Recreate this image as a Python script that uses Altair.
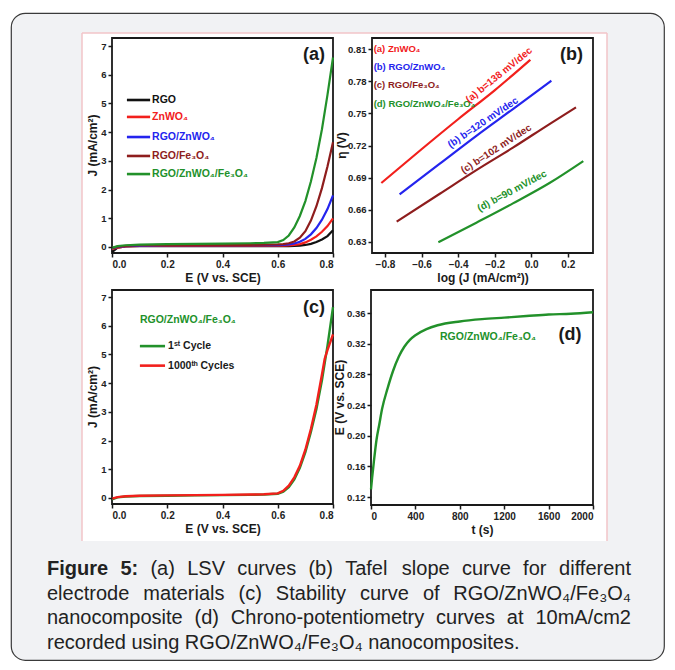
import altair as alt
import pandas as pd

# ---------------- data ----------------
# (a) LSV curves
E_lsv = [0.0, 0.02, 0.05, 0.1, 0.2, 0.3, 0.4, 0.5, 0.55, 0.6, 0.62, 0.64, 0.66, 0.68, 0.70, 0.72, 0.74, 0.76, 0.78, 0.80]
J_rgo = [-0.18, -0.02, 0.02, 0.03, 0.03, 0.03, 0.03, 0.03, 0.03, 0.03, 0.03, 0.03, 0.035, 0.045, 0.07, 0.11, 0.17, 0.26, 0.38, 0.58]
J_znwo4 = [-0.08, -0.02, 0.02, 0.04, 0.05, 0.05, 0.05, 0.05, 0.05, 0.05, 0.05, 0.055, 0.07, 0.10, 0.16, 0.25, 0.37, 0.53, 0.73, 1.0]
J_rgo_znwo4 = [-0.05, 0.0, 0.03, 0.05, 0.06, 0.06, 0.06, 0.06, 0.06, 0.065, 0.07, 0.09, 0.12, 0.18, 0.28, 0.44, 0.66, 0.95, 1.32, 1.8]
J_rgo_fe3o4 = [-0.04, 0.01, 0.04, 0.06, 0.07, 0.07, 0.07, 0.075, 0.08, 0.09, 0.10, 0.13, 0.19, 0.32, 0.55, 0.92, 1.42, 2.05, 2.8, 3.65]
J_ternary = [-0.03, 0.03, 0.06, 0.08, 0.10, 0.11, 0.12, 0.13, 0.14, 0.17, 0.24, 0.40, 0.68, 1.08, 1.6, 2.28, 3.1, 4.1, 5.3, 6.6]
lsv_names = ["RGO", "ZnWO₄", "RGO/ZnWO₄", "RGO/Fe₃O₄", "RGO/ZnWO₄/Fe₃O₄"]
lsv_colors = ["#111111", "#f2201c", "#2424ee", "#8e1d1d", "#22912a"]

# (b) Tafel plots
tafel_x_a = [-0.82, -0.6, -0.4, -0.2, -0.005]
tafel_y_a = [0.685, 0.7165, 0.7445, 0.7715, 0.800]
tafel_x_b = [-0.72, -0.5, -0.3, -0.1, 0.11]
tafel_y_b = [0.6745, 0.703, 0.729, 0.754, 0.7805]
tafel_x_c = [-0.736, -0.5, -0.3, -0.1, 0.1, 0.245]
tafel_y_c = [0.649, 0.675, 0.697, 0.718, 0.740, 0.7556]
tafel_x_d = [-0.508, -0.3, -0.1, 0.1, 0.285]
tafel_y_d = [0.6297, 0.648, 0.666, 0.685, 0.7055]
tafel_names = ["(a) ZnWO₄", "(b) RGO/ZnWO₄", "(c) RGO/Fe₃O₄", "(d) RGO/ZnWO₄/Fe₃O₄"]
tafel_slopes = ["(a) b=138 mV/dec", "(b) b=120 mV/dec", "(c) b=102 mV/dec", "(d) b=90 mV/dec"]
tafel_colors = ["#f2201c", "#2424ee", "#8e1d1d", "#22912a"]

# (c) stability
E_stab = [0.0, 0.02, 0.05, 0.1, 0.2, 0.3, 0.4, 0.5, 0.55, 0.6, 0.62, 0.64, 0.66, 0.68, 0.70, 0.72, 0.74, 0.76, 0.77, 0.78, 0.80]
J_cycle1 = [-0.05, 0.02, 0.05, 0.07, 0.08, 0.09, 0.10, 0.11, 0.12, 0.15, 0.22, 0.38, 0.65, 1.05, 1.6, 2.3, 3.1, 4.1, 4.7, 5.3, 6.65]
J_cycle1000 = [-0.02, 0.03, 0.06, 0.08, 0.09, 0.10, 0.11, 0.12, 0.13, 0.16, 0.25, 0.43, 0.72, 1.12, 1.68, 2.4, 3.25, 4.3, 4.85, 5.15, 5.7]
stab_names = ["1ˢᵗ Cycle", "1000ᵗʰ Cycles"]
stab_colors = ["#22912a", "#f2201c"]

# (d) chrono-potentiometry
t_cp = [0, 10, 25, 50, 75, 100, 150, 200, 250, 300, 350, 400, 500, 600, 800, 1000, 1200, 1400, 1600, 1800, 2000]
E_cp = [0.13, 0.145, 0.165, 0.195, 0.215, 0.235, 0.262, 0.285, 0.303, 0.316, 0.325, 0.331, 0.339, 0.344, 0.349, 0.352, 0.354, 0.356, 0.358, 0.359, 0.361]

caption_lines = [
    "Figure 5: (a) LSV curves (b) Tafel slope curve for different",
    "electrode materials (c) Stability curve of RGO/ZnWO₄/Fe₃O₄",
    "nanocomposite (d) Chrono-potentiometry curves at 10mA/cm2",
    "recorded using RGO/ZnWO₄/Fe₃O₄ nanocomposites.",
]

# ---------------- layout ----------------
W, H = 653, 647
FONT = "Liberation Sans, Arial, sans-serif"
INK = "#1a1a1a"

PA = dict(xd=[0, 0.8], xr=[101, 322], yd=[-0.21, 7.28], yr=[240, 25])
PB = dict(xd=[-0.871, 0.338], xr=[361, 582], yd=[0.6197, 0.8203], yr=[240, 25])
PC = dict(xd=[0, 0.8], xr=[101, 322], yd=[-0.209, 7.244], yr=[491, 277])
PD = dict(xd=[0, 2000], xr=[360, 582], yd=[0.1096, 0.39], yr=[492, 277])


def scl(d, r):
    return alt.Scale(domain=d, range=r, nice=False, zero=False)


AX = dict(domain=False, grid=False, tickSize=4, tickWidth=1.5, tickColor=INK, zindex=3,
          labelFont=FONT, labelFontWeight="bold", labelColor="#222222",
          labelPadding=2, titleFont=FONT, titleFontSize=12, titleFontWeight="bold",
          titleColor=INK)


def x_axis(vals, fmt, title, ypix):
    return alt.Axis(orient="bottom", offset=ypix - H, values=vals, format=fmt, title=title,
                    titlePadding=3, labelFontSize=10, **AX)


def y_axis(vals, fmt, xpix):
    return alt.Axis(orient="left", offset=-xpix, values=vals, format=fmt, title=None,
                    labelFontSize=9.5, **AX)


def frame(g, xv, xf, xt, yv, yf):
    df = pd.DataFrame({"x0": [g["xd"][0]], "x1": [g["xd"][1]], "y0": [g["yd"][0]], "y1": [g["yd"][1]]})
    return alt.Chart(df).mark_rect(fillOpacity=0, stroke=INK, strokeWidth=1.8).encode(
        x=alt.X("x0:Q", scale=scl(g["xd"], g["xr"]), axis=x_axis(xv, xf, xt, g["yr"][0])),
        x2="x1:Q",
        y=alt.Y("y0:Q", scale=scl(g["yd"], g["yr"]), axis=y_axis(yv, yf, g["xr"][0])),
        y2="y1:Q",
    )


def XY(g):
    X = lambda f: alt.X(f, scale=scl(g["xd"], g["xr"]), axis=None)
    Y = lambda f: alt.Y(f, scale=scl(g["yd"], g["yr"]), axis=None)
    return X, Y


def ytitle(g, X, Y, text, px_left):
    # rotated y-axis title, placed px_left pixels left of the frame, centred vertically
    x0, x1 = g["xd"]
    r0, r1 = g["xr"]
    xv = x0 - px_left * (x1 - x0) / (r1 - r0)
    yv = (g["yd"][0] + g["yd"][1]) / 2
    return alt.Chart(pd.DataFrame({"x": [xv], "y": [yv], "t": [text]})).mark_text(
        angle=270, align="center", baseline="middle", font=FONT, fontSize=12, fontWeight="bold",
        color=INK).encode(x=X("x:Q"), y=Y("y:Q"), text="t:N")


layers = []

# background of the figure image
layers.append(alt.Chart().mark_rect(fill="white").encode(
    x=alt.value(71), x2=alt.value(596), y=alt.value(20), y2=alt.value(528)))
for xs, xe, ys, ye in [(71, 71, 20, 528), (596, 596, 20, 528), (71, 596, 20, 20)]:
    layers.append(alt.Chart().mark_rule(color="#f2c4c8", strokeWidth=1.5).encode(
        x=alt.value(xs), x2=alt.value(xe), y=alt.value(ys), y2=alt.value(ye)))

# ---------- panel (a) ----------
X, Y = XY(PA)
layers.append(frame(PA, [0, 0.2, 0.4, 0.6, 0.8], ".1f", "E (V vs. SCE)", list(range(0, 8)), "d"))
layers.append(ytitle(PA, X, Y, "J (mA/cm²)", 19))
rows = []
for name, col, vals in zip(lsv_names, lsv_colors, [J_rgo, J_znwo4, J_rgo_znwo4, J_rgo_fe3o4, J_ternary]):
    for i, (e, j) in enumerate(zip(E_lsv, vals)):
        rows.append({"E": e, "J": j, "s": name, "c": col, "o": i})
df_a = pd.DataFrame(rows)
layers.append(alt.Chart(df_a).mark_line(strokeWidth=2.2).encode(
    x=X("E:Q"), y=Y("J:Q"), color=alt.Color("c:N", scale=None), detail="s:N", order="o:Q"))
leg_y = [5.12, 4.53, 3.83, 3.17, 2.54]
leg_a = pd.DataFrame({"x0": 0.054, "x1": 0.138, "xt": 0.145, "y": leg_y, "t": lsv_names, "c": lsv_colors})
layers.append(alt.Chart(leg_a).mark_rule(strokeWidth=2.6).encode(
    x=X("x0:Q"), x2="x1:Q", y=Y("y:Q"), color=alt.Color("c:N", scale=None)))
layers.append(alt.Chart(leg_a).mark_text(align="left", baseline="middle", font=FONT, fontSize=10.5,
                                         fontWeight="bold").encode(
    x=X("xt:Q"), y=Y("y:Q"), text="t:N", color=alt.Color("c:N", scale=None)))
layers.append(alt.Chart(pd.DataFrame({"x": [0.731], "y": [6.7], "t": ["(a)"]})).mark_text(
    font=FONT, fontSize=18, fontWeight="bold", color=INK, baseline="middle").encode(
    x=X("x:Q"), y=Y("y:Q"), text="t:N"))

# ---------- panel (b) ----------
X, Y = XY(PB)
layers.append(frame(PB, [-0.8, -0.6, -0.4, -0.2, 0.0, 0.2], ".1f", "log (J (mA/cm²))",
                    [0.63, 0.66, 0.69, 0.72, 0.75, 0.78, 0.81], ".2f"))
layers.append(ytitle(PB, X, Y, "η (V)", 30))
rows = []
for name, col, xs_, ys_ in zip(tafel_names, tafel_colors,
                               [tafel_x_a, tafel_x_b, tafel_x_c, tafel_x_d],
                               [tafel_y_a, tafel_y_b, tafel_y_c, tafel_y_d]):
    for i, (a, b) in enumerate(zip(xs_, ys_)):
        rows.append({"x": a, "y": b, "s": name, "c": col, "o": i})
df_b = pd.DataFrame(rows)
layers.append(alt.Chart(df_b).mark_line(strokeWidth=2.2, interpolate="monotone").encode(
    x=X("x:Q"), y=Y("y:Q"), color=alt.Color("c:N", scale=None), detail="s:N", order="o:Q"))
leg_b = pd.DataFrame({"x": -0.862, "y": [0.81, 0.7932, 0.7764, 0.7587], "t": tafel_names, "c": tafel_colors})
layers.append(alt.Chart(leg_b).mark_text(align="left", baseline="middle", font=FONT, fontSize=9.5,
                                         fontWeight="bold").encode(
    x=X("x:Q"), y=Y("y:Q"), text="t:N", color=alt.Color("c:N", scale=None)))
slope_b = pd.DataFrame({"x": [-0.176, -0.264, -0.192, -0.105], "y": [0.7857, 0.7414, 0.7167, 0.6776],
                        "a": [321, 326, 327, 332], "t": tafel_slopes, "c": tafel_colors})
layers.append(alt.Chart(slope_b).mark_text(baseline="middle", font=FONT, fontSize=10,
                                           fontWeight="bold").encode(
    x=X("x:Q"), y=Y("y:Q"), text="t:N", angle=alt.Angle("a:Q", scale=None),
    color=alt.Color("c:N", scale=None)))
layers.append(alt.Chart(pd.DataFrame({"x": [0.22], "y": [0.8044], "t": ["(b)"]})).mark_text(
    font=FONT, fontSize=18, fontWeight="bold", color=INK, baseline="middle").encode(
    x=X("x:Q"), y=Y("y:Q"), text="t:N"))

# ---------- panel (c) ----------
X, Y = XY(PC)
layers.append(frame(PC, [0, 0.2, 0.4, 0.6, 0.8], ".1f", "E (V vs. SCE)", list(range(0, 8)), "d"))
layers.append(ytitle(PC, X, Y, "J (mA/cm²)", 19))
rows = []
for name, col, vals in zip(stab_names, stab_colors, [J_cycle1, J_cycle1000]):
    for i, (e, j) in enumerate(zip(E_stab, vals)):
        rows.append({"E": e, "J": j, "s": name, "c": col, "o": i})
df_c = pd.DataFrame(rows)
layers.append(alt.Chart(df_c).mark_line(strokeWidth=2.4).encode(
    x=X("E:Q"), y=Y("J:Q"), color=alt.Color("c:N", scale=None), detail="s:N", order="o:Q"))
leg_c = pd.DataFrame({"x0": 0.101, "x1": 0.192, "xt": 0.203, "y": [5.29, 4.61], "t": stab_names,
                      "c": stab_colors})
layers.append(alt.Chart(leg_c).mark_rule(strokeWidth=2.6).encode(
    x=X("x0:Q"), x2="x1:Q", y=Y("y:Q"), color=alt.Color("c:N", scale=None)))
layers.append(alt.Chart(leg_c).mark_text(align="left", baseline="middle", font=FONT, fontSize=10.5,
                                         fontWeight="bold", color=INK).encode(
    x=X("xt:Q"), y=Y("y:Q"), text="t:N"))
layers.append(alt.Chart(pd.DataFrame({"x": [0.101], "y": [6.2], "t": ["RGO/ZnWO₄/Fe₃O₄"]})).mark_text(
    align="left", baseline="middle", font=FONT, fontSize=10.5, fontWeight="bold", color="#22912a").encode(
    x=X("x:Q"), y=Y("y:Q"), text="t:N"))
layers.append(alt.Chart(pd.DataFrame({"x": [0.731], "y": [6.62], "t": ["(c)"]})).mark_text(
    font=FONT, fontSize=18, fontWeight="bold", color=INK, baseline="middle").encode(
    x=X("x:Q"), y=Y("y:Q"), text="t:N"))

# ---------- panel (d) ----------
X, Y = XY(PD)
layers.append(frame(PD, [0, 400, 800, 1200, 1600, 2000], "d", "t (s)",
                    [0.12, 0.16, 0.20, 0.24, 0.28, 0.32, 0.36], ".2f"))
layers.append(ytitle(PD, X, Y, "E (V vs. SCE)", 31))
df_d = pd.DataFrame({"t": t_cp, "E": E_cp})
layers.append(alt.Chart(df_d).mark_line(strokeWidth=2.4, color="#22912a", interpolate="monotone").encode(
    x=X("t:Q"), y=Y("E:Q")))
layers.append(alt.Chart(pd.DataFrame({"x": [622], "y": [0.3287], "t": ["RGO/ZnWO₄/Fe₃O₄"]})).mark_text(
    align="left", baseline="middle", font=FONT, fontSize=10.5, fontWeight="bold", color="#22912a").encode(
    x=X("x:Q"), y=Y("y:Q"), text="t:N"))
layers.append(alt.Chart(pd.DataFrame({"x": [1793], "y": [0.331], "t": ["(d)"]})).mark_text(
    font=FONT, fontSize=18, fontWeight="bold", color=INK, baseline="middle").encode(
    x=X("x:Q"), y=Y("y:Q"), text="t:N"))

# ---------- caption (justified) ----------
CAP = 20
REG = {" ": 278, "(": 333, ")": 333, "-": 333, ".": 278, "/": 278, ":": 278, "²": 333}
for ch in "0123456789":
    REG[ch] = 556
for ch in "₀₁₂₃₄₅₆₇₈₉":
    REG[ch] = 400
REG.update({"A": 667, "B": 667, "C": 722, "D": 722, "E": 667, "F": 611, "G": 778, "H": 722, "I": 278,
            "J": 500, "K": 667, "L": 556, "M": 833, "N": 722, "O": 778, "P": 667, "Q": 778, "R": 722,
            "S": 667, "T": 611, "U": 722, "V": 667, "W": 944, "X": 667, "Y": 667, "Z": 611,
            "a": 556, "b": 556, "c": 500, "d": 556, "e": 556, "f": 278, "g": 556, "h": 556, "i": 222,
            "j": 222, "k": 500, "l": 222, "m": 833, "n": 556, "o": 556, "p": 556, "q": 556, "r": 333,
            "s": 500, "t": 278, "u": 556, "v": 500, "w": 722, "x": 500, "y": 500, "z": 500})
BOLD = dict(REG)
BOLD.update({"F": 611, "i": 278, "g": 611, "u": 611, "r": 389, "e": 556, ":": 333})


def tw(s, bold=False):
    tab = BOLD if bold else REG
    return sum(tab.get(ch, 556) for ch in s) * CAP / 1000.0


XL, XR = 36, 620
BASE = [562, 586.5, 611, 635.5]
words = []
for li, line in enumerate(caption_lines):
    if li == len(caption_lines) - 1:
        words.append({"x": XL, "y": BASE[li], "t": line, "k": "left"})
        continue
    ws = line.split(" ")
    bold = [li == 0 and k < 2 for k in range(len(ws))]
    widths = [tw(w, b) for w, b in zip(ws, bold)]
    gap = (XR - XL - sum(widths)) / (len(ws) - 1)
    x = XL
    for k, (w, b, wd) in enumerate(zip(ws, bold, widths)):
        if k == len(ws) - 1:
            words.append({"x": XR, "y": BASE[li], "t": w, "k": "right"})
        else:
            words.append({"x": x, "y": BASE[li], "t": w, "k": "bold" if b else "left"})
        x += wd + gap
wdf = pd.DataFrame(words)
for kind, align, weight in [("bold", "left", "bold"), ("left", "left", "normal"), ("right", "right", "normal")]:
    layers.append(alt.Chart(wdf[wdf.k == kind]).mark_text(
        align=align, baseline="alphabetic", font=FONT, fontSize=CAP, fontWeight=weight, color="#222222").encode(
        x=alt.X("x:Q", scale=None, axis=None), y=alt.Y("y:Q", scale=None, axis=None), text="t:N"))

chart = alt.layer(*layers).resolve_scale(x="independent", y="independent").properties(
    width=W, height=H, autosize=alt.AutoSizeParams(type="none"),
    padding={"left": 3, "top": 5, "right": 3, "bottom": 3},
).configure_view(stroke="#3a3a3a", strokeWidth=1.2, cornerRadius=14, fill="#f1f2f4")

chart.save("out.html", embed_options={"renderer": "svg", "actions": False})
